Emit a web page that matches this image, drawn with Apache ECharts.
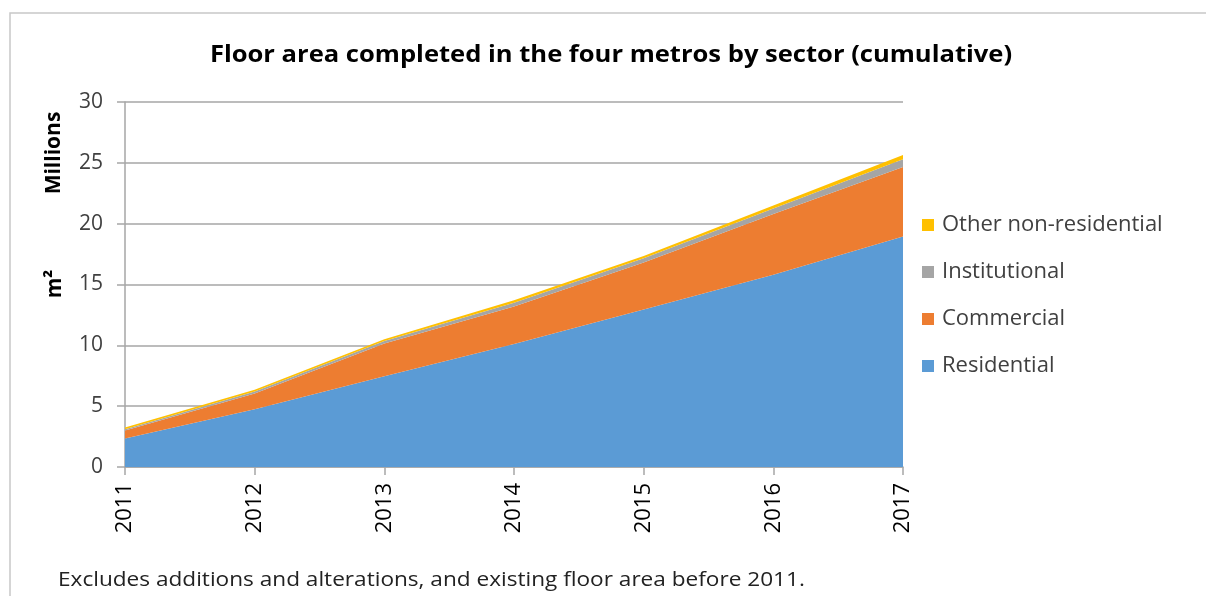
<!DOCTYPE html>
<html><head><meta charset="utf-8">
<script src="https://cdn.jsdelivr.net/npm/echarts@6/dist/echarts.min.js"></script>
<style>html,body{margin:0;padding:0;background:#fff}#c{width:1206px;height:596px}</style>
</head><body><div id="c"></div>
<script>
var years = ['2011','2012','2013','2014','2015','2016','2017'];
var residential = [2.35, 4.75, 7.45, 10.1, 12.95, 15.8, 18.95];
var commercial = [0.65, 1.3, 2.7, 3.1, 3.85, 5.0, 5.7];
var institutional = [0.1, 0.15, 0.2, 0.3, 0.35, 0.45, 0.65];
var otherNonRes = [0.15, 0.15, 0.15, 0.2, 0.2, 0.25, 0.35];
var yTicks = [0, 5, 10, 15, 20, 25, 30];

var FONT = '"Open Sans", sans-serif';
var chart = echarts.init(document.getElementById('c'), null, {renderer:'canvas'});
function area(name, data, color){
  return {name:name, type:'line', stack:'total', data:data, showSymbol:false, symbol:'none',
    lineStyle:{width:0}, areaStyle:{color:color, opacity:1}, itemStyle:{color:color}, z:2};
}
chart.setOption({
  animation:false,
  backgroundColor:'#fff',
  grid:{left:125, right:303, top:102, bottom:129},
  legend:{orient:'vertical', left:917, top:209, itemGap:25, itemWidth:12, itemHeight:12, icon:'rect',
    data:['Other non-residential','Institutional','Commercial','Residential'],
    textStyle:{fontFamily:FONT, fontSize:22, lineHeight:22, color:'#404040', padding:[0,0,0,3]}},
  xAxis:{type:'category', data:years, boundaryGap:false,
    axisLine:{lineStyle:{color:'#a6a6a6', width:1.5}},
    axisTick:{show:true, length:8, lineStyle:{color:'#a6a6a6', width:1.5}},
    axisLabel:{rotate:90, fontFamily:FONT, fontSize:22, color:'#000', margin:16}},
  yAxis:{type:'value', min:0, max:30, interval:5,
    axisLine:{show:true, lineStyle:{color:'#a6a6a6', width:1.5}},
    axisTick:{show:true, length:8, lineStyle:{color:'#a6a6a6', width:1.5}},
    splitLine:{lineStyle:{color:'#a6a6a6', width:1.5}},
    axisLabel:{fontFamily:FONT, fontSize:21, color:'#404040', margin:22,
      formatter:function(v){return yTicks.indexOf(v)>=0?String(v):'';}}},
  graphic:[
    {type:'rect', shape:{x:10, y:13, width:1220, height:620}, style:{fill:'none', stroke:'#c8c8c8', lineWidth:1.5}, z:-10},
    {type:'text', x:611, y:55, scaleX:1.065, style:{text:'Floor area completed in the four metros by sector (cumulative)', fontFamily:FONT, fontWeight:'bold', fontSize:24, fill:'#000', align:'center', verticalAlign:'middle'}},
    {type:'text', x:54, y:153, rotation:Math.PI/2, style:{text:'Millions', fontFamily:FONT, fontWeight:'bold', fontSize:21, fill:'#000', align:'center', verticalAlign:'middle'}},
    {type:'text', x:55, y:284, rotation:Math.PI/2, style:{text:'m²', fontFamily:FONT, fontWeight:'bold', fontSize:21, fill:'#000', align:'center', verticalAlign:'middle'}},
    {type:'text', x:58, y:580, scaleX:1.13, style:{text:'Excludes additions and alterations, and existing floor area before 2011.', fontFamily:FONT, fontSize:20, fill:'#222', align:'left', verticalAlign:'middle'}}
  ],
  series:[
    area('Residential', residential, '#5B9BD5'),
    area('Commercial', commercial, '#ED7D31'),
    area('Institutional', institutional, '#A5A5A5'),
    area('Other non-residential', otherNonRes, '#FFC000')
  ]
});
</script></body></html>
